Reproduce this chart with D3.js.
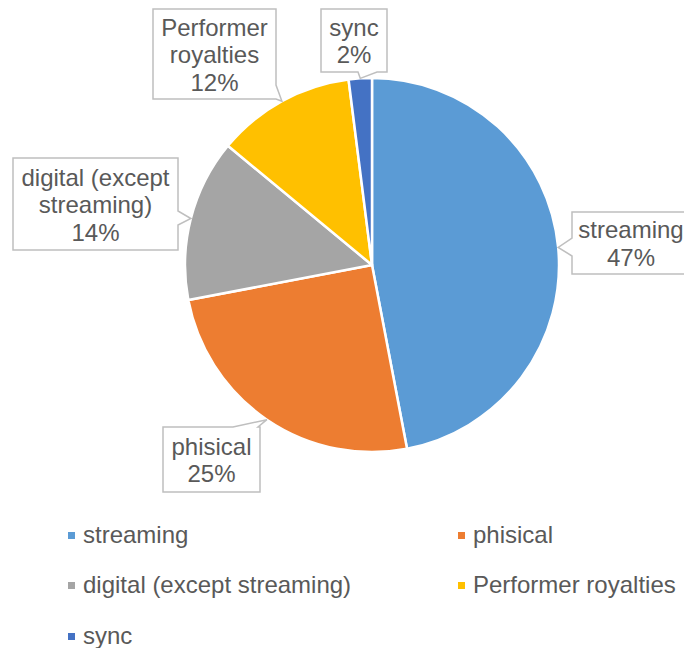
<!DOCTYPE html>
<html>
<head>
<meta charset="utf-8">
<script src="https://cdn.jsdelivr.net/npm/d3@7"></script>
<style>
  html, body { margin: 0; padding: 0; background: #fff; }
  svg { display: block; }
  text { font-family: "Liberation Sans", Arial, sans-serif; fill: #595959; }
</style>
</head>
<body>
<svg id="chart" width="684" height="648"></svg>
<script>
// ---- data ----
const categories = ["streaming", "phisical", "digital (except streaming)", "Performer royalties", "sync"];
const values = [47, 25, 14, 12, 2];
const colors = ["#5B9BD5", "#ED7D31", "#A5A5A5", "#FFC000", "#4472C4"];
const labelLines = [["streaming"], ["phisical"], ["digital (except", "streaming)"], ["Performer", "royalties"], ["sync"]];

// ---- layout (label callout boxes) ----
const callouts = [
  { x: 572, y: 212, w: 118, h: 62, side: "left", b1: 238, b2: 256 },
  { x: 163, y: 427, w: 97, h: 65, side: "top", b1: 233, b2: 258 },
  { x: 13, y: 158, w: 165, h: 92, side: "right", b1: 211, b2: 225 },
  { x: 153, y: 9, w: 123, h: 90, side: "right", b1: 85, b2: 99 },
  { x: 321, y: 9, w: 66, h: 63, side: "bottom", b1: 358, b2: 377 }
];

const W = 684, H = 648;
const cx = 372, cy = 265, R = 187;
const svg = d3.select("#chart");

const pie = d3.pie().sort(null).value(d => d);
const arcs = pie(values);
const arc = d3.arc().innerRadius(0).outerRadius(R);

const g = svg.append("g").attr("transform", `translate(${cx},${cy})`);
g.selectAll("path.slice")
  .data(arcs)
  .enter().append("path")
  .attr("class", "slice")
  .attr("d", arc)
  .attr("fill", (d, i) => colors[i])
  .attr("stroke", "#fff")
  .attr("stroke-width", 2.5)
  .attr("stroke-linejoin", "round");

// ---- callout labels ----
function calloutPath(b, tip) {
  const x0 = b.x, y0 = b.y, x1 = b.x + b.w, y1 = b.y + b.h;
  const p = d3.path();
  p.moveTo(x0, y0);
  if (b.side === "top") { p.lineTo(b.b1, y0); p.lineTo(tip[0], tip[1]); p.lineTo(b.b2, y0); }
  p.lineTo(x1, y0);
  if (b.side === "right") { p.lineTo(x1, b.b1); p.lineTo(tip[0], tip[1]); p.lineTo(x1, b.b2); }
  p.lineTo(x1, y1);
  if (b.side === "bottom") { p.lineTo(b.b2, y1); p.lineTo(tip[0], tip[1]); p.lineTo(b.b1, y1); }
  p.lineTo(x0, y1);
  if (b.side === "left") { p.lineTo(x0, b.b2); p.lineTo(tip[0], tip[1]); p.lineTo(x0, b.b1); }
  p.closePath();
  return p.toString();
}

const total = d3.sum(values);
const fs = 24, lh = 27.5;
arcs.forEach((a, i) => {
  const b = callouts[i];
  const ang = (a.startAngle + a.endAngle) / 2;
  const tip = [cx + R * Math.sin(ang), cy - R * Math.cos(ang)];
  svg.append("path")
    .attr("d", calloutPath(b, tip))
    .attr("fill", "#fff")
    .attr("stroke", "#bfbfbf")
    .attr("stroke-width", 1.5);
  const lines = labelLines[i].concat([Math.round(values[i] / total * 100) + "%"]);
  const n = lines.length;
  const tx = b.x + b.w / 2, tcy = b.y + b.h / 2;
  const t = svg.append("text")
    .attr("text-anchor", "middle")
    .attr("font-size", fs);
  lines.forEach((ln, k) => {
    t.append("tspan")
      .attr("x", tx)
      .attr("y", tcy + 9 + (k - (n - 1) / 2) * lh)
      .text(ln);
  });
});

// ---- legend ----
const legendPos = [
  { x: 68, y: 543 }, { x: 458, y: 543 },
  { x: 68, y: 593 }, { x: 458, y: 593 },
  { x: 68, y: 644 }
];
categories.forEach((c, i) => {
  const p = legendPos[i];
  svg.append("rect")
    .attr("x", p.x).attr("y", p.y - 11)
    .attr("width", 7).attr("height", 7)
    .attr("fill", colors[i]);
  svg.append("text")
    .attr("x", p.x + 15).attr("y", p.y)
    .attr("font-size", fs)
    .text(c);
});
</script>
</body>
</html>
